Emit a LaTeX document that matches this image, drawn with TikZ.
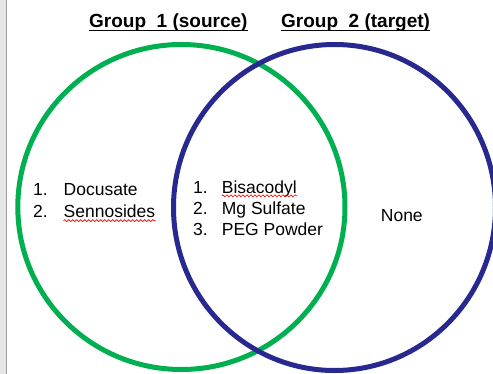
\documentclass[tikz,border=0pt]{standalone}
\usepackage{fontspec}
\setmainfont{Liberation Sans}
\usetikzlibrary{decorations.pathmorphing}
\definecolor{vgreen}{RGB}{0,176,80}
\definecolor{vblue}{RGB}{40,40,145}
\definecolor{stripgray}{RGB}{230,230,230}
\definecolor{edgegray}{RGB}{160,160,160}
\begin{document}
\begin{tikzpicture}[x=1pt,y=-1pt,
  title/.style={anchor=base west, inner sep=0pt, font=\fontsize{19}{22}\selectfont\bfseries},
  item/.style={anchor=base west, inner sep=0pt, font=\fontsize{17.5}{21}\selectfont},
  ring/.style={line width=5pt},
  uline/.style={line width=1.4pt},
  spell/.style={draw=red, line width=0.7pt, decorate,
    decoration={snake, segment length=4pt, amplitude=1pt}}]
\useasboundingbox (0,0) rectangle (493,374);
\clip (0,0) rectangle (493,374);
\fill[white] (0,0) rectangle (493,374);
% left window strip
\fill[stripgray] (0,0) rectangle (6,374);
\draw[edgegray, line width=1.2pt] (6.6,0) -- (6.6,374);
% circles
\coordinate (cg) at (181.4,207);
\coordinate (cb) at (334.5,207.5);
\draw[ring, vgreen] (cg) ellipse [x radius=163.6, y radius=162.5];
\draw[ring, vblue] (cb) ellipse [x radius=161, y radius=163];
% titles
\node[title] (t1) at (89,28) {Group\ \ 1 (source)};
\node[title] (t2) at (281,28) {Group\ \ 2 (target)};
\draw[uline] ([yshift=-2.5pt]t1.base west) -- ([yshift=-2.5pt]t1.base east);
\draw[uline] ([yshift=-2.5pt]t2.base west) -- ([yshift=-2.5pt]t2.base east);
% group 1 only
\node[item] (a1n) at (33,196) {1.};
\node[item] (a1) at (63.5,196) {Docusate};
\node[item] (a2n) at (33,217.3) {2.};
\node[item] (a2) at (63.5,217.3) {Sennosides};
% both
\node[item] (b1n) at (193,193.3) {1.};
\node[item] (b1) at (221.7,193.3) {Bisacodyl};
\node[item] (b2n) at (193,214.6) {2.};
\node[item] (b2) at (221.7,214.6) {Mg Sulfate};
\node[item] (b3n) at (193,236) {3.};
\node[item] (b3) at (221.7,236) {PEG Powder};
% group 2 only
\node[item] (c1) at (380.7,222) {None};
% spell-check marks
\draw[spell] ([yshift=-3.3pt]a2.base west) -- ([yshift=-3.3pt]a2.base east);
\draw[spell] ([yshift=-2.5pt]b1.base west) -- ([yshift=-2.5pt]b1.base east);
\end{tikzpicture}
\end{document}
